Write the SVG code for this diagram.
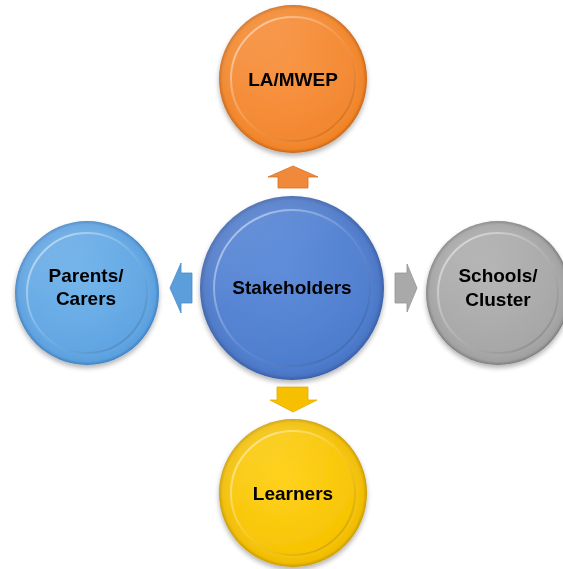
<svg xmlns="http://www.w3.org/2000/svg" width="563" height="569" viewBox="0 0 563 569">
<defs>
  <style>
    .lbl { font-family: "Liberation Sans", Arial, sans-serif; font-weight: bold; font-size: 19px; fill: #000; text-anchor: middle; }
    .hl { fill: url(#hl); }
    .bev { fill: none; stroke: url(#bev); stroke-width: 2; }
  </style>
  <filter id="sh" x="-20%" y="-20%" width="140%" height="150%">
    <feGaussianBlur in="SourceAlpha" stdDeviation="2.5"/>
    <feOffset dx="0" dy="3" result="b"/>
    <feComponentTransfer><feFuncA type="linear" slope="0.3"/></feComponentTransfer>
    <feMerge><feMergeNode/><feMergeNode in="SourceGraphic"/></feMerge>
  </filter>
  <linearGradient id="hl" x1="0" y1="0" x2="0.6" y2="1">
    <stop offset="0" stop-color="#fff" stop-opacity="0.18"/>
    <stop offset="0.5" stop-color="#fff" stop-opacity="0.04"/>
    <stop offset="1" stop-color="#fff" stop-opacity="0"/>
  </linearGradient>
  <linearGradient id="bev" x1="0.15" y1="0.15" x2="0.85" y2="0.85">
    <stop offset="0" stop-color="#fff" stop-opacity="0.45"/>
    <stop offset="0.5" stop-color="#fff" stop-opacity="0.1"/>
    <stop offset="1" stop-color="#000" stop-opacity="0.12"/>
  </linearGradient>
  <radialGradient id="gO" cx="0.5" cy="0.5" r="0.5"><stop offset="0.8" stop-color="#F68C34"/><stop offset="0.95" stop-color="#F08326"/><stop offset="1" stop-color="#C8661A"/></radialGradient>
  <radialGradient id="iO" cx="0.45" cy="0.4" r="0.6"><stop offset="0" stop-color="#F8913E"/><stop offset="1" stop-color="#F3862E"/></radialGradient>
  <radialGradient id="gB" cx="0.5" cy="0.5" r="0.5"><stop offset="0.8" stop-color="#5282D4"/><stop offset="0.95" stop-color="#4A76C6"/><stop offset="1" stop-color="#3A5FA8"/></radialGradient>
  <radialGradient id="iB" cx="0.45" cy="0.4" r="0.6"><stop offset="0" stop-color="#5888D8"/><stop offset="1" stop-color="#4D7CCE"/></radialGradient>
  <radialGradient id="gL" cx="0.5" cy="0.5" r="0.5"><stop offset="0.8" stop-color="#65AAE6"/><stop offset="0.95" stop-color="#5A9FDE"/><stop offset="1" stop-color="#3F80C0"/></radialGradient>
  <radialGradient id="iL" cx="0.45" cy="0.4" r="0.6"><stop offset="0" stop-color="#6EB2EA"/><stop offset="1" stop-color="#5FA4E2"/></radialGradient>
  <radialGradient id="gG" cx="0.5" cy="0.5" r="0.5"><stop offset="0.8" stop-color="#ABABAB"/><stop offset="0.95" stop-color="#A0A0A0"/><stop offset="1" stop-color="#7C7C7C"/></radialGradient>
  <radialGradient id="iG" cx="0.45" cy="0.4" r="0.6"><stop offset="0" stop-color="#B2B2B2"/><stop offset="1" stop-color="#A6A6A6"/></radialGradient>
  <radialGradient id="gY" cx="0.5" cy="0.5" r="0.5"><stop offset="0.8" stop-color="#F9C70A"/><stop offset="0.95" stop-color="#F0BC00"/><stop offset="1" stop-color="#C89A00"/></radialGradient>
  <radialGradient id="iY" cx="0.45" cy="0.4" r="0.6"><stop offset="0" stop-color="#FFD014"/><stop offset="1" stop-color="#F7C300"/></radialGradient>
</defs>
<rect width="563" height="569" fill="#fff"/>

<g id="connectors">
  <polygon points="293,166 318,177 308,177 308,188 278,188 278,177 268,177" fill="#F08A3A" stroke="#D97026" stroke-width="0.8"/>
  <polygon points="170,288 181,263 181,273 192,273 192,303 181,303 181,313" fill="#5A9EDC" stroke="#4A8AC8" stroke-width="0.8"/>
  <polygon points="417,288 407,264 407,273 395,273 395,303 407,303 407,312" fill="#A9A9A9" stroke="#959595" stroke-width="0.8"/>
  <polygon points="293,412 317,400 308,400 308,387 277,387 277,400 270,400" fill="#F6C000" stroke="#E0AC00" stroke-width="0.8"/>
</g>

<g id="node-lamwep" filter="url(#sh)">
  <circle cx="293" cy="79" r="74" fill="url(#gO)"/>
  <circle cx="293" cy="79" r="62" fill="url(#iO)"/>
  <circle cx="293" cy="79" r="62" class="bev"/>
  <circle cx="293" cy="79" r="74" class="hl"/>
  <text class="lbl" x="293" y="86">LA/MWEP</text>
</g>

<g id="node-parents" filter="url(#sh)">
  <circle cx="87" cy="293" r="72" fill="url(#gL)"/>
  <circle cx="87" cy="293" r="60" fill="url(#iL)"/>
  <circle cx="87" cy="293" r="60" class="bev"/>
  <circle cx="87" cy="293" r="72" class="hl"/>
  <text class="lbl" x="86" y="282">Parents/</text>
  <text class="lbl" x="86" y="305">Carers</text>
</g>

<g id="node-schools" filter="url(#sh)">
  <circle cx="498" cy="293" r="72" fill="url(#gG)"/>
  <circle cx="498" cy="293" r="60" fill="url(#iG)"/>
  <circle cx="498" cy="293" r="60" class="bev"/>
  <circle cx="498" cy="293" r="72" class="hl"/>
  <text class="lbl" x="498" y="282">Schools/</text>
  <text class="lbl" x="498" y="306">Cluster</text>
</g>

<g id="node-learners" filter="url(#sh)">
  <circle cx="293" cy="493" r="74" fill="url(#gY)"/>
  <circle cx="293" cy="493" r="62" fill="url(#iY)"/>
  <circle cx="293" cy="493" r="62" class="bev"/>
  <circle cx="293" cy="493" r="74" class="hl"/>
  <text class="lbl" x="293" y="500">Learners</text>
</g>

<g id="node-stakeholders" filter="url(#sh)">
  <circle cx="292" cy="288" r="92" fill="url(#gB)"/>
  <circle cx="292" cy="288" r="78" fill="url(#iB)"/>
  <circle cx="292" cy="288" r="78" class="bev"/>
  <circle cx="292" cy="288" r="92" class="hl"/>
  <text class="lbl" x="292" y="294">Stakeholders</text>
</g>
</svg>
